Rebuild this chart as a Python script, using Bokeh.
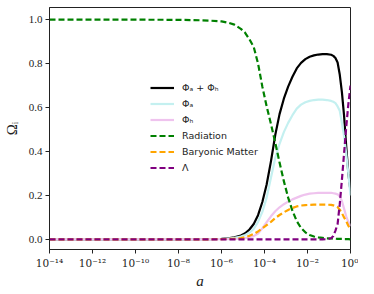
from bokeh.plotting import figure
from bokeh.models import FixedTicker, CustomJSTickFormatter, PrintfTickFormatter, Range1d, Legend, LegendItem
from bokeh.embed import file_html
from bokeh.resources import INLINE

log_a = [-14, -12, -10, -8, -7, -6.5, -6, -5.7, -5.4, -5.1, -4.9, -4.7, -4.5, -4.3, -4.1,
         -3.9, -3.7, -3.5, -3.3, -3.1, -2.9, -2.7, -2.5, -2.3, -2.1, -1.9, -1.7, -1.5,
         -1.3, -1.1, -0.9, -0.8, -0.7, -0.6, -0.5, -0.4, -0.3, -0.2, -0.1, 0.0]

omega_total = [0.0, 0.0, 0.0, 0.0002, 0.0008, 0.0015, 0.003, 0.005, 0.009, 0.018, 0.028, 0.045,
               0.07, 0.11, 0.17, 0.25, 0.355, 0.475, 0.57, 0.64, 0.695, 0.74, 0.778, 0.803,
               0.82, 0.831, 0.837, 0.841, 0.843, 0.843, 0.84, 0.835, 0.825, 0.805, 0.75,
               0.67, 0.564, 0.425, 0.30, 0.22]

omega_a = [0.0, 0.0, 0.0, 0.0001, 0.0006, 0.001, 0.002, 0.004, 0.007, 0.013, 0.02, 0.03,
           0.048, 0.08, 0.125, 0.19, 0.28, 0.37, 0.435, 0.488, 0.53, 0.565, 0.595, 0.613,
           0.624, 0.63, 0.634, 0.636, 0.636, 0.634, 0.63, 0.626, 0.62, 0.605, 0.585,
           0.53, 0.47, 0.39, 0.30, 0.20]

omega_h = [0.0, 0.0, 0.0, 0.0, 0.0002, 0.0005, 0.001, 0.0015, 0.002, 0.004, 0.006, 0.01,
           0.015, 0.027, 0.05, 0.078, 0.105, 0.128, 0.146, 0.16, 0.172, 0.182, 0.19, 0.198,
           0.204, 0.208, 0.21, 0.212, 0.212, 0.212, 0.212, 0.21, 0.208, 0.205, 0.195,
           0.175, 0.14, 0.105, 0.08, 0.06]

omega_rad = [1.0, 1.0, 0.9995, 0.999, 0.997, 0.995, 0.992, 0.986, 0.977, 0.958, 0.94, 0.91,
             0.875, 0.80, 0.695, 0.605, 0.525, 0.44, 0.35, 0.265, 0.19, 0.13, 0.083, 0.052,
             0.032, 0.02, 0.013, 0.009, 0.007, 0.005, 0.004, 0.003, 0.003, 0.002, 0.002,
             0.002, 0.001, 0.001, 0.001, 0.0]

omega_bar = [0.0, 0.0, 0.0, 0.0, 0.0002, 0.0005, 0.001, 0.002, 0.003, 0.006, 0.01, 0.016,
             0.025, 0.036, 0.05, 0.065, 0.08, 0.097, 0.111, 0.123, 0.134, 0.143, 0.15, 0.154,
             0.156, 0.157, 0.158, 0.158, 0.158, 0.158, 0.157, 0.155, 0.152, 0.147, 0.135,
             0.12, 0.10, 0.083, 0.062, 0.045]

omega_lambda = [0.0, 0.0, 0.0, 0.0, 0.0, 0.0, 0.0, 0.0, 0.0, 0.0, 0.0, 0.0,
                0.0, 0.0, 0.0, 0.0, 0.0, 0.0, 0.0, 0.0, 0.0, 0.0, 0.0, 0.0,
                0.0, 0.0, 0.0, 0.0, 0.0, 0.001, 0.005, 0.015, 0.04, 0.07, 0.16,
                0.27, 0.39, 0.51, 0.615, 0.70]

x_tick_values = [1e-14, 1e-12, 1e-10, 1e-8, 1e-6, 1e-4, 1e-2, 1e0]
x_tick_labels = ["10⁻¹⁴", "10⁻¹²", "10⁻¹⁰", "10⁻⁸", "10⁻⁶", "10⁻⁴", "10⁻²", "10⁰"]
y_tick_values = [0.0, 0.2, 0.4, 0.6, 0.8, 1.0]

series_labels = ["Φₐ + Φₕ", "Φₐ", "Φₕ", "Radiation", "Baryonic Matter", "Λ"]

a = [10.0 ** v for v in log_a]

p = figure(width=358, height=291, x_axis_type="log", output_backend="svg",
           toolbar_location=None, min_border_left=40, min_border_right=8,
           min_border_top=7, min_border_bottom=30)
p.x_range = Range1d(1e-14, 1.0)
p.y_range = Range1d(-0.046, 1.055)
p.grid.visible = False
p.outline_line_color = "#222222"
p.outline_line_width = 1
p.background_fill_color = "white"
p.border_fill_color = "white"

r1 = p.line(a, omega_total, line_color="black", line_width=2.2)
r2 = p.line(a, omega_a, line_color="#c4f0f0", line_width=2.2)
r3 = p.line(a, omega_h, line_color="#efc3ee", line_width=2.2)
r4 = p.line(a, omega_rad, line_color="green", line_width=2.2, line_dash="6 3")
r5 = p.line(a, omega_bar, line_color="orange", line_width=2.2, line_dash="6 3")
r6 = p.line(a, omega_lambda, line_color="purple", line_width=2.2, line_dash="6 3")

legend = Legend(items=[LegendItem(label=lab, renderers=[r]) for lab, r in
                       zip(series_labels, [r1, r2, r3, r4, r5, r6])],
                location=(101, 75))
legend.border_line_color = None
legend.background_fill_alpha = 0
legend.label_text_font = "DejaVu Sans"
legend.label_text_font_size = "9.5px"
legend.label_text_color = "#222222"
legend.glyph_width = 24
legend.glyph_height = 13
legend.label_height = 13
legend.spacing = 3
legend.padding = 0
legend.margin = 0
legend.label_standoff = 8
p.add_layout(legend, "center")

xa = p.xaxis[0]
xa.ticker = FixedTicker(ticks=x_tick_values)
xa.formatter = CustomJSTickFormatter(args=dict(vals=x_tick_values, labs=x_tick_labels), code="""
const i = vals.findIndex(v => Math.abs(Math.log10(v) - Math.log10(tick)) < 1e-6);
return i >= 0 ? labs[i] : '';
""")
xa.axis_label = "a"
xa.axis_label_text_font_style = "italic"

ya = p.yaxis[0]
ya.ticker = FixedTicker(ticks=y_tick_values)
ya.formatter = PrintfTickFormatter(format="%.1f")
ya.axis_label = "Ωᵢ"
ya.axis_label_text_font_style = "normal"

for ax in (xa, ya):
    ax.minor_tick_line_color = None
    ax.major_tick_out = 4
    ax.major_tick_in = 0
    ax.axis_line_color = "#222222"
    ax.major_tick_line_color = "#222222"
    ax.major_label_text_font = "Liberation Serif"
    ax.major_label_text_font_size = "11px"
    ax.major_label_text_color = "#222222"
    ax.major_label_text_line_height = 1.0
    ax.axis_label_text_font = "Liberation Serif"
    ax.axis_label_text_font_size = "15px"
    ax.axis_label_text_color = "#222222"
    ax.axis_label_text_line_height = 1.0
    ax.major_label_standoff = 3
xa.major_label_text_font = "DejaVu Serif"
xa.major_label_text_font_size = "10.5px"
xa.axis_label_standoff = 1
ya.axis_label_standoff = 6

open("out.html", "w").write(file_html(p, INLINE))
